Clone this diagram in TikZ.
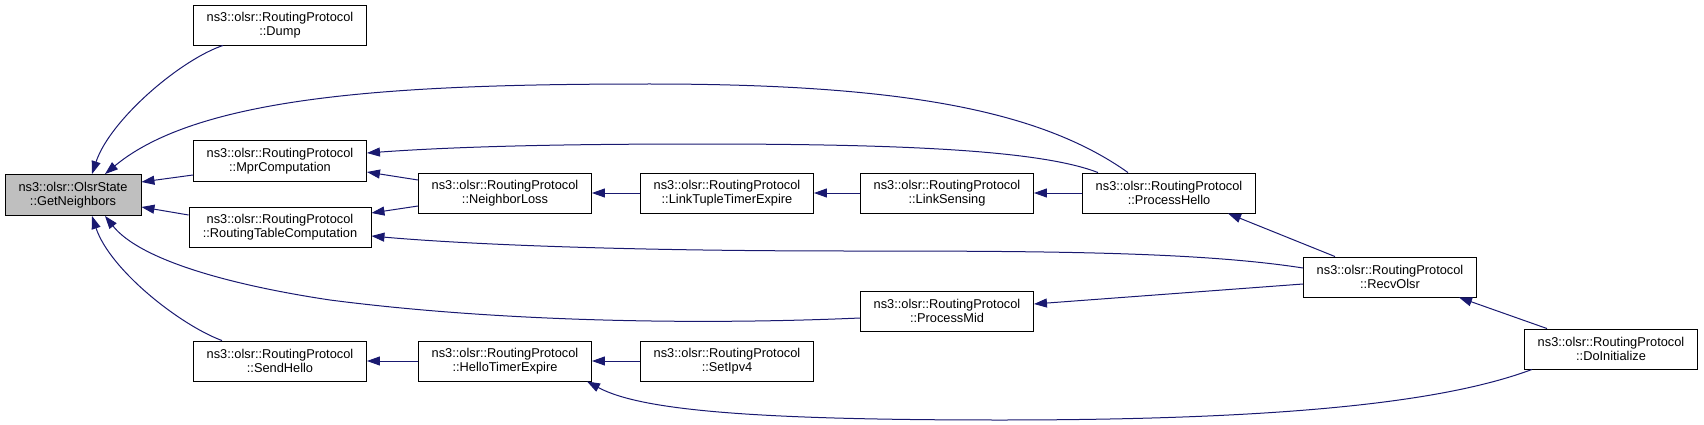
\documentclass[tikz,border=0pt]{standalone}
\usepackage{fontspec}
\setmainfont{Liberation Sans}
\usetikzlibrary{arrows.meta}
\definecolor{callblue}{HTML}{191970}
\definecolor{boxgray}{HTML}{BFBFBF}
\tikzset{
  fn/.style={draw=black, line width=0.9pt, fill=white, align=center,
    minimum width=173pt, minimum height=40pt, inner sep=0pt,
    font=\fontsize{12.8}{14.5}\selectfont},
  call/.style={color=callblue, line width=1pt, -{Triangle[length=13pt,width=9pt]}},
}
\begin{document}
\begin{tikzpicture}[x=1pt,y=-1pt]
      \useasboundingbox (0,0) rectangle (1704,425);
      \node[fn, fill=boxgray, minimum width=136pt, minimum height=41pt] (gn) at (73,195) {ns3::olsr::OlsrState\\::GetNeighbors};
      \node[fn] (dump) at (280,25) {ns3::olsr::RoutingProtocol\\::Dump};
      \node[fn, minimum height=41pt] (mpr) at (280,161) {ns3::olsr::RoutingProtocol\\::MprComputation};
      \node[fn, minimum width=182pt] (rtc) at (280,227) {ns3::olsr::RoutingProtocol\\::RoutingTableComputation};
      \node[fn] (sendhello) at (280,361) {ns3::olsr::RoutingProtocol\\::SendHello};
      \node[fn] (nloss) at (505,193) {ns3::olsr::RoutingProtocol\\::NeighborLoss};
      \node[fn] (hte) at (505,361) {ns3::olsr::RoutingProtocol\\::HelloTimerExpire};
      \node[fn] (ltte) at (727,193) {ns3::olsr::RoutingProtocol\\::LinkTupleTimerExpire};
      \node[fn] (setipv4) at (727,361) {ns3::olsr::RoutingProtocol\\::SetIpv4};
      \node[fn] (lsense) at (947,193) {ns3::olsr::RoutingProtocol\\::LinkSensing};
      \node[fn] (pmid) at (947,311) {ns3::olsr::RoutingProtocol\\::ProcessMid};
      \node[fn] (phello) at (1169,193) {ns3::olsr::RoutingProtocol\\::ProcessHello};
      \node[fn] (recv) at (1390,277) {ns3::olsr::RoutingProtocol\\::RecvOlsr};
      \node[fn] (doinit) at (1611,349) {ns3::olsr::RoutingProtocol\\::DoInitialize};
      \begin{scope}[call]
        \draw ([xshift=-57pt]dump.south) .. controls (180,60) and (110,120) .. ([xshift=19pt]gn.north);
        \draw ([xshift=-41pt]phello.north) .. controls (1040,110) and (900,84) .. (650,84)
          .. controls (400,84) and (200,95) .. ([xshift=32pt]gn.north);
        \draw ([yshift=-14pt]mpr.west) to ([yshift=13pt]gn.east);
        \draw ([yshift=12pt]rtc.west) to ([yshift=-12pt]gn.east);
        \draw ([yshift=-7pt]pmid.west) .. controls (700,325) and (500,322) .. (330,300)
          .. controls (230,285) and (140,260) .. ([xshift=32pt]gn.south);
        \draw ([xshift=-58pt]sendhello.north) .. controls (180,325) and (110,270) .. ([xshift=19pt]gn.south);
        \draw ([xshift=-71pt]phello.north) .. controls (1040,150) and (900,144) .. (700,144)
          .. controls (550,144) and (450,147) .. ([yshift=8pt]mpr.east);
        \draw ([yshift=13pt]nloss.west) to ([yshift=-11pt]mpr.east);
        \draw ([yshift=-13pt]nloss.west) to ([yshift=14pt]rtc.east);
        \draw (ltte) to (nloss);
        \draw (lsense) to (ltte);
        \draw (phello) to (lsense);
        \draw ([xshift=-55pt]recv.north) to ([xshift=59pt]phello.south);
        \draw ([yshift=9pt]recv.west) .. controls (1200,252) and (1050,251) .. (850,251)
          .. controls (600,251) and (450,243) .. ([yshift=-9pt]rtc.east);
        \draw ([yshift=-7pt]recv.west) to ([yshift=7pt]pmid.east);
        \draw ([xshift=-64pt]doinit.north) to ([xshift=69pt]recv.south);
        \draw (hte) to (sendhello);
        \draw (setipv4) to (hte);
        \draw ([xshift=-79pt]doinit.south) .. controls (1450,400) and (1300,420) .. (1000,420)
          .. controls (750,420) and (640,410) .. ([xshift=82pt]hte.south);
      \end{scope}
    \end{tikzpicture}
\end{document}
